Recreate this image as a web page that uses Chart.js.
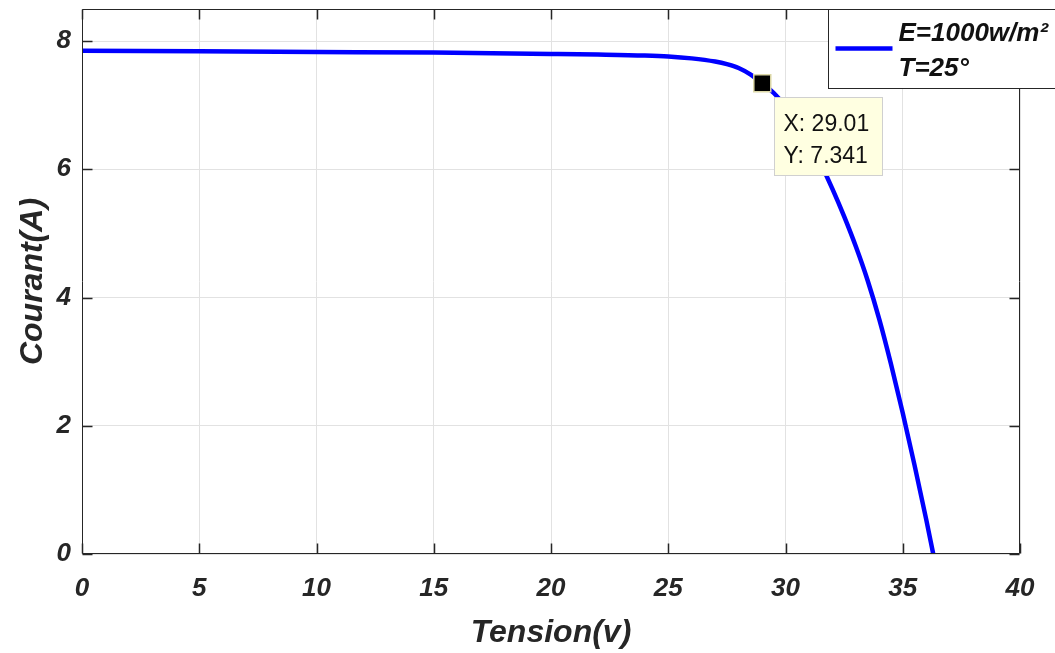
<!DOCTYPE html>
<html><head><meta charset="utf-8">
<script src="https://cdn.jsdelivr.net/npm/chart.js@4.4.1/dist/chart.umd.min.js"></script>
<style>html,body{margin:0;padding:0;background:#fff;overflow:hidden}#wrap{width:1055px;height:653px;position:relative}</style>
</head><body><div id="wrap"><canvas id="c" width="1055" height="653"></canvas></div>
<script>
// ---- data ----
const tensionV = [0, 5, 10, 15, 20, 22, 24, 25, 26, 27, 27.5, 28, 28.5, 29.01, 29.5, 30, 30.5, 31, 31.5, 32, 32.5, 33, 33.5, 34, 34.5, 35, 35.5, 36, 36.3];
const courantA = [7.85, 7.84, 7.83, 7.82, 7.80, 7.79, 7.775, 7.76, 7.73, 7.68, 7.64, 7.58, 7.48, 7.341, 7.19, 6.985, 6.735, 6.435, 6.085, 5.695, 5.265, 4.795, 4.27, 3.66, 2.96, 2.20, 1.39, 0.54, 0.0];
const xTickValues = [0, 5, 10, 15, 20, 25, 30, 35, 40];
const yTickValues = [0, 2, 4, 6, 8];
const tipX = [29.01];
const tipY = [7.341];
const legendLines = ['E=1000w/m\u00B2', 'T=25\u00B0'];
const xTitle = 'Tension(v)';
const yTitle = 'Courant(A)';

const FONT = "'Liberation Sans', Arial, sans-serif";
const AX = '#262626';

const framePlugin = {
  id: 'frame',
  afterDatasetsDraw(chart) {
    const {ctx, chartArea: a, scales: {x, y}} = chart;
    ctx.save();
    ctx.strokeStyle = AX;
    ctx.lineWidth = 1;
    const L = Math.round(a.left) + 0.5, R = Math.round(a.right) - 0.5;
    const T = Math.round(a.top) + 0.5, B = Math.round(a.bottom) - 0.5;
    ctx.beginPath();
    ctx.rect(L, T, R - L, B - T);
    ctx.stroke();
    ctx.lineWidth = 1.5;
    ctx.beginPath();
    xTickValues.forEach(v => {
      const px = Math.round(x.getPixelForValue(v)) + 0.5;
      ctx.moveTo(px, B); ctx.lineTo(px, B - 10);
      ctx.moveTo(px, T); ctx.lineTo(px, T + 10);
    });
    yTickValues.forEach(v => {
      const py = Math.round(y.getPixelForValue(v)) + 0.5;
      ctx.moveTo(L, py); ctx.lineTo(L + 10, py);
      ctx.moveTo(R, py); ctx.lineTo(R - 10, py);
    });
    ctx.stroke();
    ctx.restore();
  },
  afterDraw(chart) {
    const {ctx, chartArea: a, scales: {x, y}} = chart;
    ctx.save();
    // legend box
    const lx = Math.round(a.right) - 192 + 0.5, ly = Math.round(a.top) + 0.5;
    ctx.fillStyle = '#ffffff';
    ctx.fillRect(lx, ly, 300, 79);
    ctx.strokeStyle = AX; ctx.lineWidth = 1;
    ctx.strokeRect(lx, ly, 300, 79);
    ctx.strokeStyle = '#0000ff'; ctx.lineWidth = 4.5;
    ctx.beginPath(); ctx.moveTo(lx + 7, ly + 39); ctx.lineTo(lx + 64, ly + 39); ctx.stroke();
    ctx.fillStyle = '#111111';
    ctx.font = 'italic bold 26px ' + FONT;
    ctx.textBaseline = 'alphabetic'; ctx.textAlign = 'left';
    ctx.fillText(legendLines[0], lx + 70, ly + 31);
    ctx.fillText(legendLines[1], lx + 70, ly + 66);
    // data tip
    const px = x.getPixelForValue(tipX[0]), py = y.getPixelForValue(tipY[0]);
    const bx = Math.round(px) + 12 + 0.5, by = Math.round(py) + 14 + 0.5;
    ctx.fillStyle = '#ffffe1';
    ctx.fillRect(bx, by, 108, 78);
    ctx.strokeStyle = '#d0d0d0'; ctx.lineWidth = 1;
    ctx.strokeRect(bx, by, 108, 78);
    ctx.fillStyle = '#111111';
    ctx.font = '23px ' + FONT;
    ctx.fillText('X: ' + tipX[0].toFixed(2), bx + 9, by + 33);
    ctx.fillText('Y: ' + tipY[0].toFixed(3), bx + 9, by + 65);
    ctx.restore();
  }
};

new Chart(document.getElementById('c'), {
  type: 'line',
  data: {
    datasets: [
      {
        label: 'tip',
        data: tipX.map((v, i) => ({x: v, y: tipY[i]})),
        showLine: false,
        pointStyle: 'rect',
        pointRadius: 12,
        pointBackgroundColor: '#000000',
        pointBorderColor: '#dcd8a8',
        pointBorderWidth: 1.5,
        order: 0
      },
      {
        label: 'I-V',
        data: tensionV.map((v, i) => ({x: v, y: courantA[i]})),
        borderColor: '#0000ff',
        borderWidth: 4.5,
        pointRadius: 0,
        fill: false,
        cubicInterpolationMode: 'monotone',
        order: 1
      }
    ]
  },
  options: {
    responsive: false,
    animation: false,
    devicePixelRatio: 1,
    layout: {autoPadding: false, padding: {top: 9, right: 35, left: 0, bottom: 0}},
    plugins: {legend: {display: false}, tooltip: {enabled: false}},
    scales: {
      x: {
        type: 'linear', min: 0, max: 40,
        afterBuildTicks: s => { s.ticks = xTickValues.map(v => ({value: v})); },
        afterFit: s => { s.height = 99; s.paddingLeft = 0; s.paddingRight = 0; s.paddingTop = 0; s.paddingBottom = 0; },
        grid: {color: '#e2e2e2', lineWidth: 1, drawTicks: false},
        border: {display: false},
        ticks: {color: AX, padding: 19, maxRotation: 0, font: {family: FONT, size: 26, weight: 'bold', style: 'italic'}},
        title: {display: true, text: xTitle, color: AX, padding: {top: 0, bottom: 1}, font: {family: FONT, size: 32, weight: 'bold', style: 'italic'}}
      },
      y: {
        type: 'linear', min: 0, max: 8.5,
        afterBuildTicks: s => { s.ticks = yTickValues.map(v => ({value: v})); },
        afterFit: s => { s.width = 82; s.paddingTop = 0; s.paddingBottom = 0; s.paddingLeft = 0; s.paddingRight = 0; },
        grid: {color: '#e2e2e2', lineWidth: 1, drawTicks: false},
        border: {display: false},
        ticks: {color: AX, padding: 11, font: {family: FONT, size: 26, weight: 'bold', style: 'italic'}},
        title: {display: true, text: yTitle, color: AX, padding: {top: 14, bottom: 0}, font: {family: FONT, size: 32, weight: 'bold', style: 'italic'}}
      }
    }
  },
  plugins: [framePlugin]
});
</script></body></html>
